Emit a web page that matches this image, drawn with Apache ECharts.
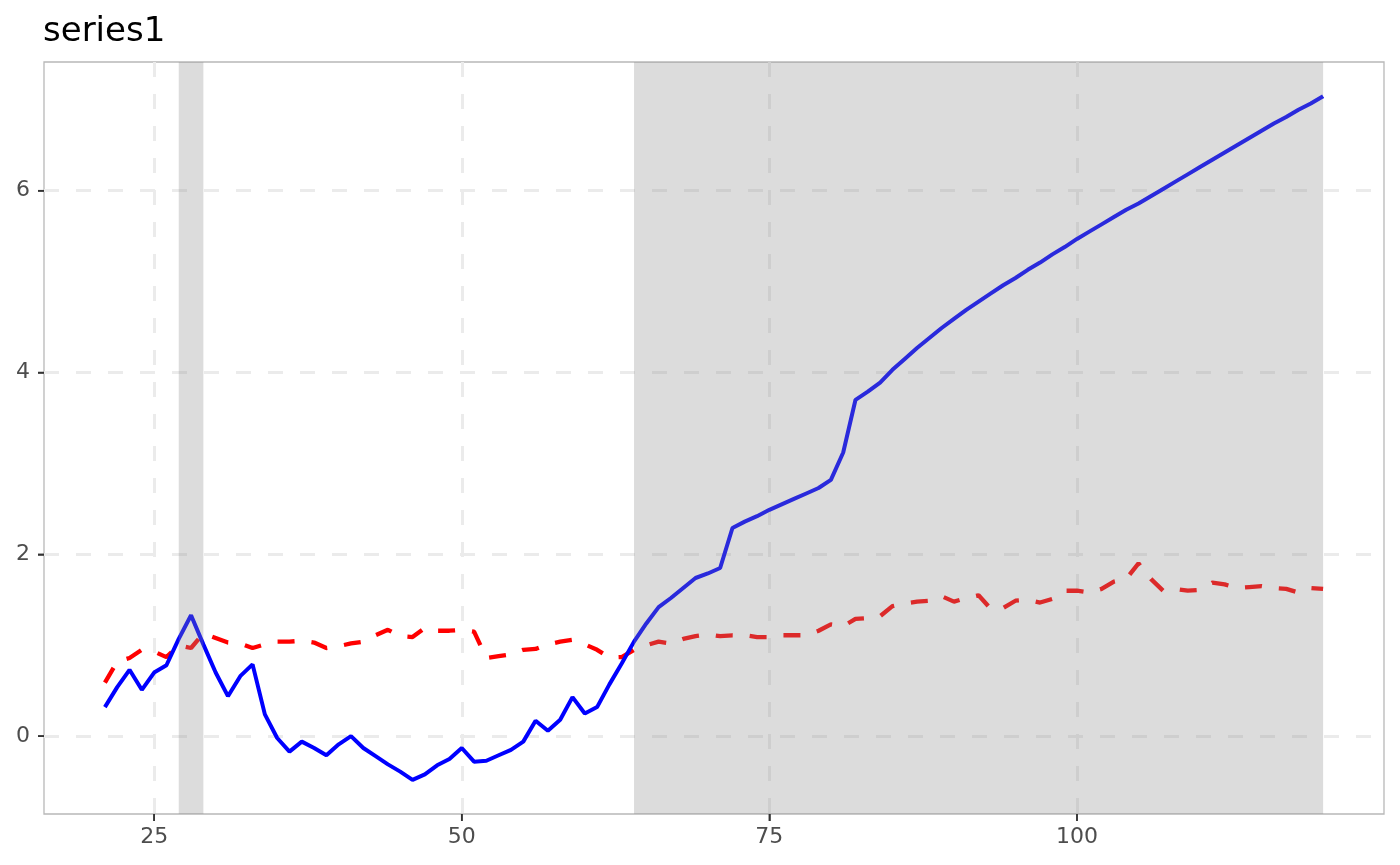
<!DOCTYPE html>
<html>
<head>
<meta charset="utf-8">
<script src="https://cdn.jsdelivr.net/npm/echarts@6/dist/echarts.min.js"></script>
<style>
html,body{margin:0;padding:0;background:#fff;}
#chart{width:1400px;height:865px;}
</style>
</head>
<body>
<div id="chart"></div>
<script>
var titleText = 'series1';
var xValues = [21,22,23,24,25,26,27,28,29,30,31,32,33,34,35,36,37,38,39,40,
  41,42,43,44,45,46,47,48,49,50,51,52,53,54,55,56,57,58,59,60,
  61,62,63,64,65,66,67,68,69,70,71,72,73,74,75,76,77,78,79,80,
  81,82,83,84,85,86,87,88,89,90,91,92,93,94,95,96,97,98,99,100,
  101,102,103,104,105,106,107,108,109,110,111,112,113,114,115,116,117,118,119,120];
var blueValues = [0.32,0.54,0.73,0.51,0.70,0.78,1.07,1.33,1.01,0.70,
  0.44,0.66,0.79,0.24,-0.02,-0.17,-0.06,-0.13,-0.21,-0.09,
  0.00,-0.13,-0.22,-0.31,-0.39,-0.48,-0.42,-0.32,-0.25,-0.13,
  -0.28,-0.27,-0.21,-0.15,-0.06,0.17,0.06,0.18,0.43,0.25,
  0.32,0.57,0.80,1.04,1.24,1.42,1.52,1.63,1.74,1.79,
  1.85,2.29,2.36,2.42,2.49,2.55,2.61,2.67,2.73,2.82,
  3.12,3.70,3.79,3.89,4.03,4.15,4.27,4.38,4.49,4.59,
  4.69,4.78,4.87,4.96,5.04,5.13,5.21,5.30,5.38,5.47,
  5.55,5.63,5.71,5.79,5.86,5.94,6.02,6.10,6.18,6.26,
  6.34,6.42,6.50,6.58,6.66,6.74,6.81,6.89,6.96,7.04];
var redValues = [0.59,0.82,0.86,0.95,0.93,0.87,1.00,0.97,1.13,1.08,
  1.03,1.02,0.97,1.01,1.04,1.04,1.05,1.03,0.97,0.99,
  1.02,1.04,1.11,1.17,1.10,1.09,1.19,1.16,1.16,1.17,
  1.15,0.86,0.88,0.90,0.95,0.96,1.01,1.04,1.06,1.01,
  0.95,0.865,0.87,0.95,1.00,1.04,1.02,1.07,1.10,1.12,
  1.10,1.11,1.11,1.09,1.09,1.11,1.11,1.11,1.16,1.23,
  1.21,1.29,1.30,1.32,1.43,1.46,1.48,1.49,1.54,1.48,
  1.52,1.55,1.40,1.41,1.49,1.50,1.47,1.51,1.60,1.60,
  1.58,1.62,1.70,1.73,1.90,1.73,1.60,1.62,1.60,1.61,
  1.69,1.67,1.63,1.64,1.65,1.63,1.62,1.58,1.63,1.62];
var shadeRanges = [[27,29],[64,120]];
var xTicks = [25,50,75,100];
var yTicks = [0,2,4,6];
var xRange = [16.05,124.95];
var yRange = [-0.856,7.416];

function pairs(xs, ys){ return xs.map(function(x,i){ return [x, ys[i]]; }); }

var chart = echarts.init(document.getElementById('chart'), null, {renderer:'canvas'});
var gridDash = {color:'#ebebeb', width:3, type:[15,17]};
var tickStyle = {stroke:'#333333', lineWidth:1.6};
var option = {
  animation:false,
  backgroundColor:'#ffffff',
  title:{text:titleText, left:43, top:15, padding:0,
    textStyle:{fontFamily:'DejaVu Sans', fontWeight:'normal', fontSize:34, color:'#000'}},
  grid:{left:44, right:16, top:62, bottom:51, show:true, borderColor:'#b8b8b8', borderWidth:1.3, backgroundColor:'transparent'},
  xAxis:{type:'value', min:xRange[0], max:xRange[1],
    axisLine:{show:false, onZero:false},
    axisTick:{show:true, length:7, lineStyle:{color:'#333333', width:1.5}, customValues:xTicks},
    axisLabel:{customValues:xTicks, color:'#4d4d4d', fontFamily:'DejaVu Sans', fontSize:22, margin:10, padding:[2,0,0,0]},
    splitLine:{show:true, lineStyle:gridDash}},
  yAxis:{type:'value', min:yRange[0], max:yRange[1],
    axisLine:{show:false},
    axisTick:{show:true, length:6, lineStyle:{color:'#333333', width:1.5}, customValues:yTicks},
    axisLabel:{customValues:yTicks, color:'#4d4d4d', fontFamily:'DejaVu Sans', fontSize:22, margin:9, padding:[0,5,0,0]},
    splitLine:{show:true, lineStyle:gridDash}},
  series:[
    {type:'line', name:'red', data:pairs(xValues, redValues), symbol:'none', z:3,
      lineStyle:{color:'#ff0000', width:4.3, type:[17,17], cap:'butt'}},
    {type:'line', name:'blue', data:pairs(xValues, blueValues), symbol:'none', z:4,
      lineStyle:{color:'#0000ff', width:4}},
    {type:'line', name:'shade', data:[], z:10, silent:true,
      markArea:{silent:true, z:10,
        itemStyle:{color:'rgba(140,140,140,0.30)'},
        data:shadeRanges.map(function(r){ return [{xAxis:r[0], yAxis:yRange[0]},{xAxis:r[1], yAxis:yRange[1]}]; })}},
    {type:'custom', name:'xTickMarks', clip:false, silent:true, z:12,
      data:xTicks.map(function(v){ return [v, yRange[0]]; }),
      renderItem:function(params, api){
        var p = api.coord([api.value(0), api.value(1)]);
        return {type:'line', shape:{x1:p[0], y1:p[1], x2:p[0], y2:p[1]+7}, style:tickStyle};
      }},
    {type:'custom', name:'yTickMarks', clip:false, silent:true, z:12,
      data:yTicks.map(function(v){ return [xRange[0], v]; }),
      renderItem:function(params, api){
        var p = api.coord([api.value(0), api.value(1)]);
        return {type:'line', shape:{x1:p[0]-6, y1:p[1], x2:p[0], y2:p[1]}, style:tickStyle};
      }}
  ]
};
chart.setOption(option);
</script>
</body>
</html>
